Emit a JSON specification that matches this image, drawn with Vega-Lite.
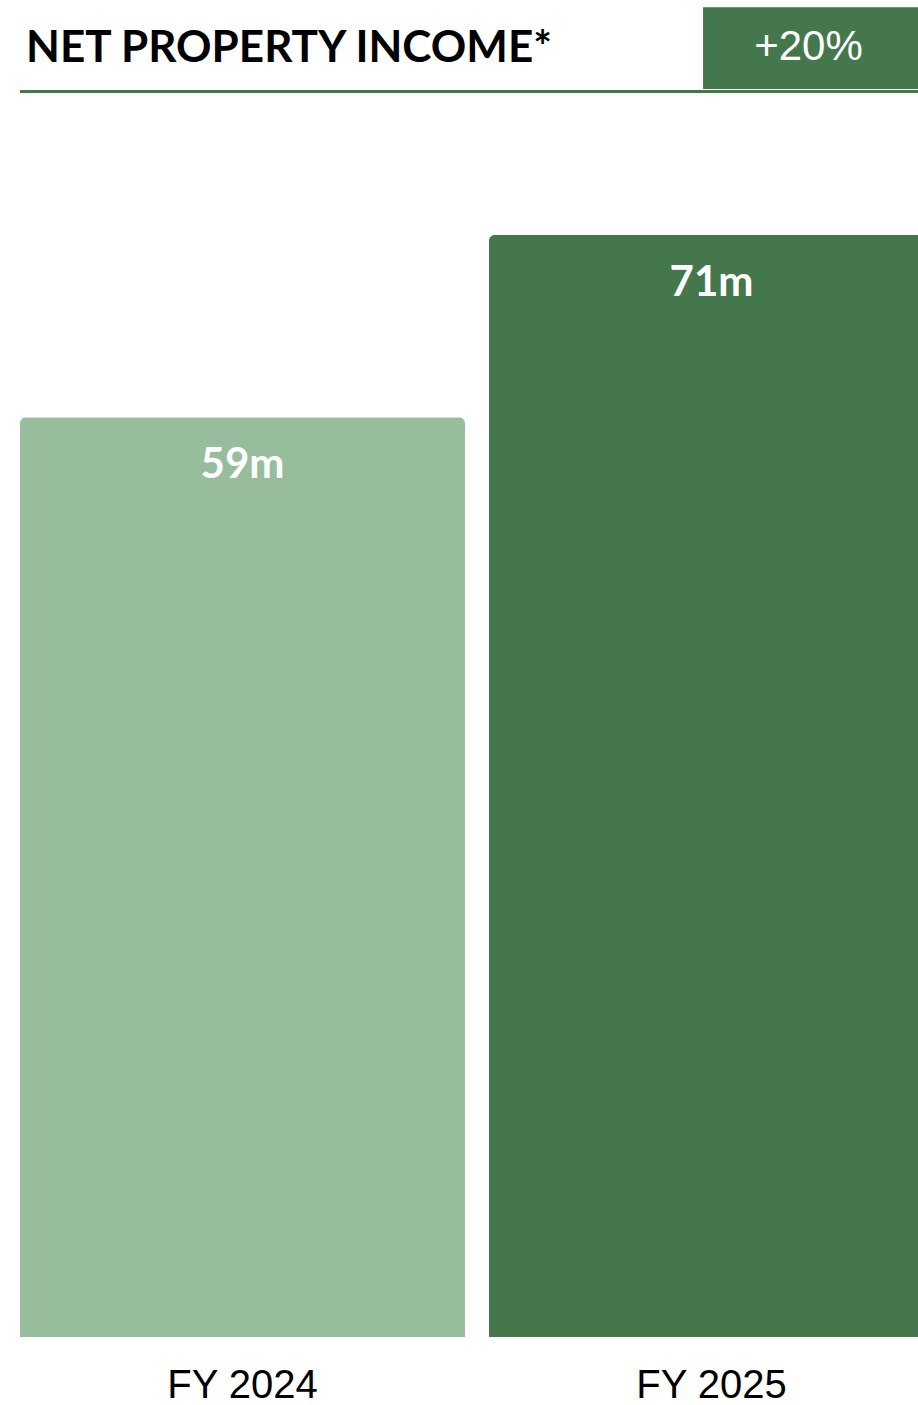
{
  "$schema": "https://vega.github.io/schema/vega-lite/v6.json",
  "width": 898,
  "height": 1337,
  "autosize": {"type": "none"},
  "padding": {"left": 20, "top": 0, "right": 0, "bottom": 68},
  "background": "white",
  "config": {"view": {"stroke": null}},
  "datasets": {
    "bars": [
      {"year": "FY 2024", "value": 59.0, "label": "59m"},
      {"year": "FY 2025", "value": 70.7, "label": "71m"}
    ],
    "header": [
      {"title": "NET PROPERTY INCOME*", "change": "+20%"}
    ]
  },
  "layer": [
    {
      "data": {"name": "bars"},
      "mark": {"type": "bar", "cornerRadiusTopLeft": 6, "cornerRadiusTopRight": 6},
      "encoding": {
        "x": {
          "field": "year",
          "type": "nominal",
          "scale": {"domain": ["FY 2024", "FY 2025"], "range": [0, 914], "paddingInner": 0.0512, "paddingOuter": 0},
          "axis": {
            "title": null,
            "domain": false,
            "ticks": false,
            "tickSize": 0,
            "labelAngle": 0,
            "labelFont": "Liberation Sans",
            "labelFontSize": 40,
            "labelColor": "#000000",
            "labelBaseline": "alphabetic",
            "labelPadding": 60
          }
        },
        "y": {
          "field": "value",
          "type": "quantitative",
          "scale": {"domain": [0, 85.77], "nice": false, "zero": true},
          "axis": null
        },
        "color": {
          "field": "year",
          "type": "nominal",
          "scale": {"domain": ["FY 2024", "FY 2025"], "range": ["#97BD9C", "#44784C"]},
          "legend": null
        }
      }
    },
    {
      "data": {"name": "bars"},
      "mark": {"type": "text", "color": "white", "font": "Lato", "fontWeight": "bold", "fontSize": 42, "baseline": "alphabetic", "align": "center", "dy": 61},
      "encoding": {
        "x": {"field": "year", "type": "nominal"},
        "y": {"field": "value", "type": "quantitative"},
        "text": {"field": "label"}
      }
    },
    {
      "data": {"name": "header"},
      "mark": {"type": "rule", "color": "#44784C", "strokeWidth": 3},
      "encoding": {
        "x": {"datum": "FY 2024", "type": "nominal", "bandPosition": 0},
        "x2": {"datum": "FY 2025", "bandPosition": 1},
        "y": {"datum": 79.9, "type": "quantitative"}
      }
    },
    {
      "data": {"name": "header"},
      "mark": {"type": "rect", "color": "#44784C"},
      "encoding": {
        "x": {"datum": "FY 2025", "type": "nominal", "bandPosition": 0.481},
        "x2": {"datum": "FY 2025", "bandPosition": 1},
        "y": {"datum": 80.06, "type": "quantitative"},
        "y2": {"datum": 85.3}
      }
    },
    {
      "data": {"name": "header"},
      "mark": {"type": "text", "color": "white", "font": "Liberation Sans", "fontSize": 42, "baseline": "alphabetic", "align": "center"},
      "encoding": {
        "x": {"datum": "FY 2025", "type": "nominal", "bandPosition": 0.718},
        "y": {"datum": 81.92, "type": "quantitative"},
        "text": {"field": "change"}
      }
    },
    {
      "data": {"name": "header"},
      "mark": {"type": "text", "color": "black", "font": "Lato", "fontWeight": "bold", "fontSize": 44, "baseline": "alphabetic", "align": "left"},
      "encoding": {
        "x": {"datum": "FY 2024", "type": "nominal", "bandPosition": 0.0135},
        "y": {"datum": 81.79, "type": "quantitative"},
        "text": {"field": "title"}
      }
    }
  ]
}
